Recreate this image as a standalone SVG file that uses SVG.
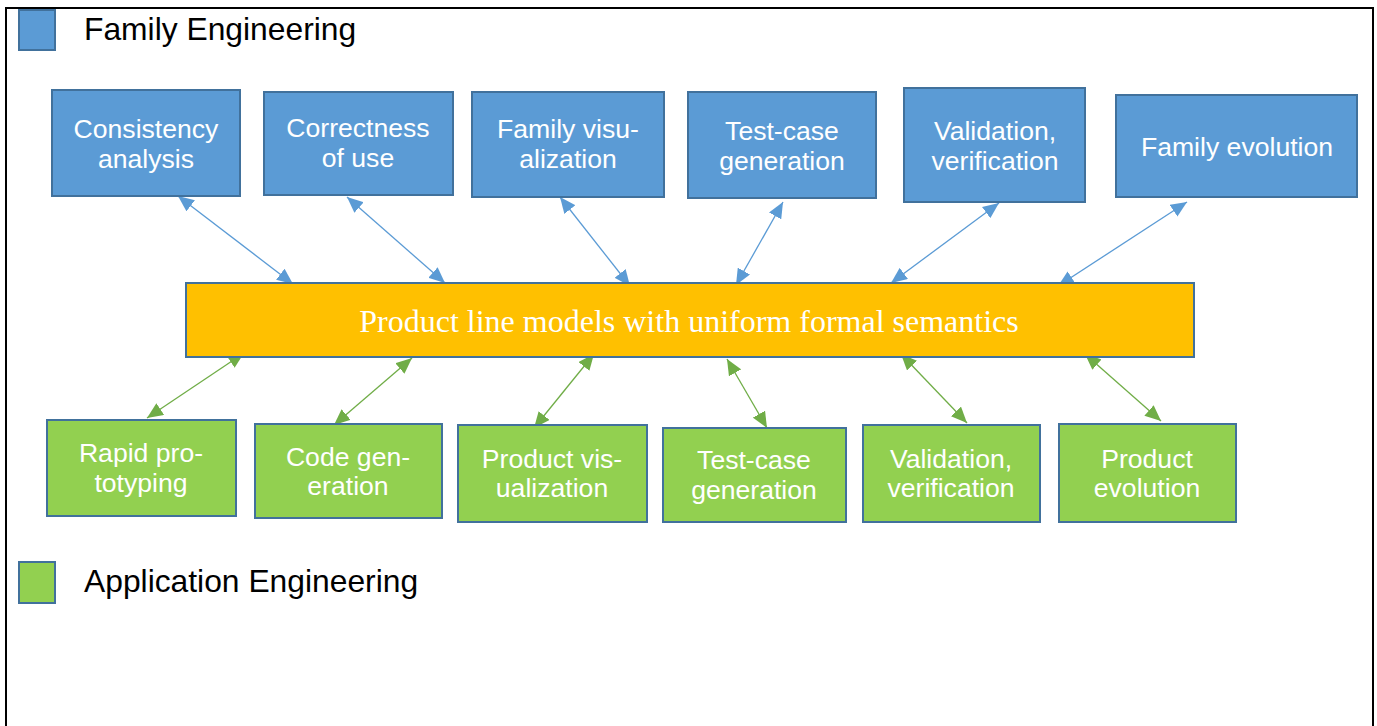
<svg xmlns="http://www.w3.org/2000/svg" width="1377" height="726" viewBox="0 0 1377 726">
  <style>
    .frame { fill: none; stroke: #000; stroke-width: 2; }
    .fe { fill: #5B9BD5; stroke: #41719C; stroke-width: 2; }
    .ae { fill: #92D050; stroke: #41719C; stroke-width: 2; }
    .core { fill: #FFC000; stroke: #41719C; stroke-width: 2; }
    .lbl { font-family: "Liberation Sans", Arial, sans-serif; font-size: 26.6px; fill: #fff; text-anchor: middle; }
    .legend { font-family: "Liberation Sans", Arial, sans-serif; font-size: 31.8px; fill: #000; }
    .coretxt { font-family: "Liberation Serif", "Times New Roman", serif; font-size: 32px; fill: #fff; text-anchor: middle; }
    .cb { stroke: #5B9BD5; stroke-width: 1.3; fill: none; marker-start: url(#ab); marker-end: url(#ab); }
    .cg { stroke: #70AD47; stroke-width: 1.3; fill: none; marker-start: url(#ag); marker-end: url(#ag); }
  </style>
  <defs>
    <marker id="ab" viewBox="0 0 16 14" refX="16" refY="7" markerWidth="16" markerHeight="14" markerUnits="userSpaceOnUse" orient="auto-start-reverse">
      <path d="M0,0 L16,7 L0,14 z" fill="#5B9BD5"/>
    </marker>
    <marker id="ag" viewBox="0 0 16 14" refX="16" refY="7" markerWidth="16" markerHeight="14" markerUnits="userSpaceOnUse" orient="auto-start-reverse">
      <path d="M0,0 L16,7 L0,14 z" fill="#70AD47"/>
    </marker>
  </defs>

  <rect width="1377" height="726" fill="#fff"/>
  <!-- open page frame (top, left, right) -->
  <path class="frame" d="M6,727 V8 H1373 V727"/>

  <!-- legend -->
  <g id="legend-family">
    <rect class="fe" x="19" y="10" width="36" height="40"/>
    <text class="legend" x="84" y="40">Family Engineering</text>
  </g>
  <g id="legend-application">
    <rect class="ae" x="19" y="562" width="36" height="41"/>
    <text class="legend" x="84" y="592">Application Engineering</text>
  </g>

  <!-- connectors -->
  <g id="connectors">
    <line class="cb" x1="178" y1="196" x2="293" y2="284"/>
    <line class="cb" x1="347" y1="197" x2="445" y2="283"/>
    <line class="cb" x1="560" y1="197" x2="630" y2="286"/>
    <line class="cb" x1="783" y1="202" x2="736" y2="285"/>
    <line class="cb" x1="999" y1="203" x2="891" y2="283"/>
    <line class="cb" x1="1187" y1="202" x2="1058" y2="286"/>

    <line class="cg" x1="244" y1="353" x2="147" y2="418"/>
    <line class="cg" x1="412" y1="358" x2="334" y2="425"/>
    <line class="cg" x1="594" y1="354" x2="534" y2="428"/>
    <line class="cg" x1="727" y1="359" x2="767" y2="428"/>
    <line class="cg" x1="901" y1="354" x2="967" y2="423"/>
    <line class="cg" x1="1085" y1="354" x2="1161" y2="421"/>
  </g>

  <!-- central model -->
  <g id="core">
    <rect class="core" x="186" y="283" width="1008" height="74"/>
    <text class="coretxt" x="689" y="332">Product line models with uniform formal semantics</text>
  </g>

  <!-- family engineering tasks -->
  <g id="fe-consistency">
    <rect class="fe" x="52" y="90" width="188" height="106"/>
    <text class="lbl" x="146" y="138">Consistency</text>
    <text class="lbl" x="146" y="168">analysis</text>
  </g>
  <g id="fe-correctness">
    <rect class="fe" x="264" y="92" width="189" height="103"/>
    <text class="lbl" x="358" y="137">Correctness</text>
    <text class="lbl" x="358" y="167">of use</text>
  </g>
  <g id="fe-visualization">
    <rect class="fe" x="472" y="92" width="192" height="105"/>
    <text class="lbl" x="568" y="138">Family visu-</text>
    <text class="lbl" x="568" y="168">alization</text>
  </g>
  <g id="fe-testcase">
    <rect class="fe" x="688" y="92" width="188" height="106"/>
    <text class="lbl" x="782" y="140">Test-case</text>
    <text class="lbl" x="782" y="170">generation</text>
  </g>
  <g id="fe-validation">
    <rect class="fe" x="904" y="88" width="181" height="114"/>
    <text class="lbl" x="995" y="140">Validation,</text>
    <text class="lbl" x="995" y="170">verification</text>
  </g>
  <g id="fe-evolution">
    <rect class="fe" x="1116" y="95" width="241" height="102"/>
    <text class="lbl" x="1237" y="156">Family evolution</text>
  </g>

  <!-- application engineering tasks -->
  <g id="ae-prototyping">
    <rect class="ae" x="47" y="420" width="189" height="96"/>
    <text class="lbl" x="141" y="462">Rapid pro-</text>
    <text class="lbl" x="141" y="492">totyping</text>
  </g>
  <g id="ae-codegen">
    <rect class="ae" x="255" y="424" width="187" height="94"/>
    <text class="lbl" x="348" y="466">Code gen-</text>
    <text class="lbl" x="348" y="495">eration</text>
  </g>
  <g id="ae-visualization">
    <rect class="ae" x="458" y="425" width="189" height="97"/>
    <text class="lbl" x="552" y="468">Product vis-</text>
    <text class="lbl" x="552" y="497">ualization</text>
  </g>
  <g id="ae-testcase">
    <rect class="ae" x="663" y="428" width="183" height="94"/>
    <text class="lbl" x="754" y="469">Test-case</text>
    <text class="lbl" x="754" y="499">generation</text>
  </g>
  <g id="ae-validation">
    <rect class="ae" x="863" y="425" width="177" height="97"/>
    <text class="lbl" x="951" y="468">Validation,</text>
    <text class="lbl" x="951" y="497">verification</text>
  </g>
  <g id="ae-evolution">
    <rect class="ae" x="1059" y="424" width="177" height="98"/>
    <text class="lbl" x="1147" y="468">Product</text>
    <text class="lbl" x="1147" y="497">evolution</text>
  </g>
</svg>
